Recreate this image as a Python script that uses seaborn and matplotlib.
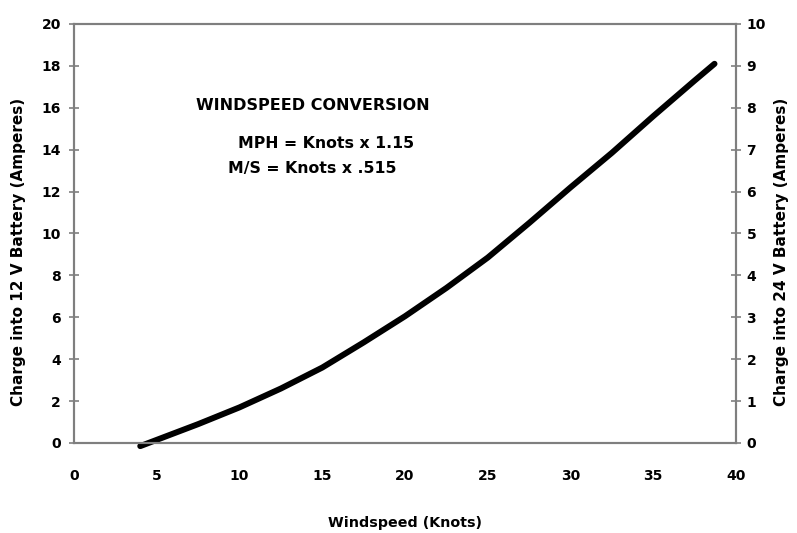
import matplotlib
matplotlib.use("Agg")
import matplotlib.pyplot as plt
import seaborn as sns
import pandas as pd

# Data
windspeed_knots = [4, 5, 7.5, 10, 12.5, 15, 17.5, 20, 22.5, 25, 27.5, 30, 32.5, 35, 37.5, 38.7]
charge_12v = [-0.15, 0.15, 0.9, 1.7, 2.6, 3.6, 4.8, 6.05, 7.4, 8.85, 10.5, 12.2, 13.85, 15.6, 17.3, 18.1]
x_ticks = [0, 5, 10, 15, 20, 25, 30, 35, 40]
left_ticks = [0, 2, 4, 6, 8, 10, 12, 14, 16, 18, 20]
right_ticks = [0, 1, 2, 3, 4, 5, 6, 7, 8, 9, 10]
notes = ["WINDSPEED CONVERSION", "MPH = Knots x 1.15", "M/S = Knots x .515"]

sns.set_style("white")
plt.rcParams['font.family'] = ['DejaVu Sans']
plt.rcParams['font.weight'] = 'bold'
plt.rcParams['text.color'] = 'black'
plt.rcParams['axes.labelcolor'] = 'black'

df = pd.DataFrame({"Windspeed": windspeed_knots, "Charge": charge_12v})

fig = plt.figure(figsize=(7.97, 5.33), dpi=100)
ax = fig.add_axes([0.0929, 0.1689, 0.8306, 0.7861])

sns.lineplot(data=df, x="Windspeed", y="Charge", ax=ax, color="black",
             linewidth=4.3, solid_capstyle="round", solid_joinstyle="round",
             clip_on=False)

grey = "#7f7f7f"
ax.set_xlim(0, 40)
ax.set_ylim(0, 20)
ax.set_xticks(x_ticks)
ax.set_yticks(left_ticks)
for s in ax.spines.values():
    s.set_color(grey)
    s.set_linewidth(1.5)
ax.tick_params(axis="both", direction="inout", length=7, width=1.2, color=grey,
               labelsize=10, labelcolor="black")
ax.tick_params(axis="x", pad=15)
ax.tick_params(axis="y", pad=6)
for lab in ax.get_xticklabels() + ax.get_yticklabels():
    lab.set_fontweight("bold")

ax.set_xlabel("Windspeed (Knots)", fontsize=10.3, fontweight="bold", labelpad=24)
ax.set_ylabel("Charge into 12 V Battery (Amperes)", fontsize=11, fontweight="bold")
ax.yaxis.set_label_coords(-0.073, 0.457)

ax2 = ax.twinx()
ax2.set_ylim(0, 10)
ax2.set_yticks(right_ticks)
for s in ax2.spines.values():
    s.set_color(grey)
    s.set_linewidth(1.5)
ax2.tick_params(axis="y", direction="inout", length=7, width=1.2, color=grey,
                labelsize=10, labelcolor="black", pad=4)
for lab in ax2.get_yticklabels():
    lab.set_fontweight("bold")
ax2.set_ylabel("Charge into 24 V Battery (Amperes)", fontsize=11, fontweight="bold",
               rotation=90)
ax2.yaxis.set_label_coords(1.058, 0.457)

ax.text(7.37, 16.1, notes[0], fontsize=11.5, fontweight="bold", va="center", ha="left")
ax.text(9.9, 14.3, notes[1], fontsize=11.3, fontweight="bold", va="center", ha="left")
ax.text(9.3, 13.1, notes[2], fontsize=11.3, fontweight="bold", va="center", ha="left")

fig.savefig("out.png", dpi=100)
